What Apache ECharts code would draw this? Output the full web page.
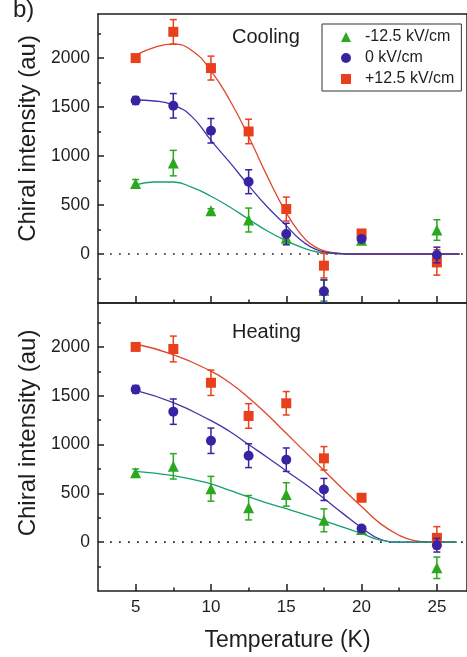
<!DOCTYPE html>
<html>
<head>
<meta charset="utf-8">
<script src="https://cdn.jsdelivr.net/npm/echarts@6/dist/echarts.min.js"></script>
<style>
html,body{margin:0;padding:0;background:#fff;}
#chart{width:467px;height:657px;}
</style>
</head>
<body>
<div id="chart"></div>
<script>
// ---------- data ----------
const temps = [5, 7.5, 10, 12.5, 15, 17.5, 20, 25];

const coolGreen = [720, 928, 442, 347, 163, -370, 140, 245];
const coolGreenErr = [40, 130, 20, 122, 60, 110, 30, 105];
const coolBlue = [1567, 1513, 1258, 738, 204, -381, 153, -10];
const coolBlueErr = [40, 125, 125, 122, 110, 115, 30, 80];
const coolRed = [2000, 2268, 1898, 1251, 459, -119, 210, -86];
const coolRedErr = [30, 125, 122, 125, 122, 125, 30, 130];

const heatGreen = [710, 777, 547, 353, 489, 224, 130, -262];
const heatGreenErr = [40, 130, 127, 125, 120, 117, 30, 110];
const heatBlue = [1565, 1337, 1039, 886, 845, 540, 139, -31];
const heatBlueErr = [40, 130, 130, 122, 120, 113, 30, 70];
const heatRed = [2000, 1979, 1633, 1293, 1423, 859, 455, 44];
const heatRedErr = [30, 132, 130, 126, 120, 120, 25, 115];

// fitted curves
const coolFitX = [5, 6.25, 7.5, 8.75, 10, 11.25, 12.5, 13.75, 15, 15.9, 16.6, 17.3, 18.2, 19.2, 26.5];
const coolFitRed = [2030, 2110, 2143, 2075, 1870, 1570, 1200, 790, 420, 215, 105, 45, 12, 0, 0];
const coolFitBlue = [1572, 1562, 1520, 1400, 1160, 935, 700, 480, 290, 150, 75, 30, 8, 0, 0];
const coolFitGreen = [707, 735, 735, 680, 590, 480, 355, 235, 135, 75, 38, 15, 4, 0, 0];

const heatFitX = [5, 7.5, 10, 11.25, 12.5, 13.75, 15, 16.25, 17.5, 18.75, 20, 21.25, 22.5, 23.5, 24.5, 26.3];
const heatFitRed = [2030, 1921, 1752, 1633, 1480, 1305, 1115, 925, 735, 545, 365, 190, 70, 15, 0, 0];
const heatFitBlue = [1555, 1429, 1245, 1134, 1000, 868, 730, 595, 448, 295, 148, 30, 0, 0, 0, 0];
const heatFitGreen = [726, 682, 597, 530, 463, 401, 343, 283, 219, 155, 89, 20, 0, 0, 0, 0];

const zeroLineX = [3.3, 26.8];
const zeroLineY = [0, 0];

const xMajorTicks = [5, 10, 15, 20, 25];
const xMinorTicks = [7.5, 12.5, 17.5, 22.5];
const yMajorTicks = [0, 500, 1000, 1500, 2000];
const yMinorTicks = [-250, 250, 750, 1250, 1750, 2250];

const seriesNames = ['-12.5 kV/cm', '0 kV/cm', '+12.5 kV/cm'];
const panelNames = ['Cooling', 'Heating'];

// ---------- styling ----------
const FONT = "'Liberation Sans', Arial, sans-serif";
const INK = '#1e1e1e';
const RED = '#e8401c';
const BLUE = '#3a23a3';
const GREEN = '#2aa81e';
const TEAL = '#14a070';
const RED_LINE = '#e0472a';
const BLUE_LINE = '#4534a8';

const zip = (xs, ys) => xs.map((x, i) => [x, ys[i]]);
const zip3 = (xs, ys, es) => xs.map((x, i) => [x, ys[i], es[i]]);

function errRender(params, api) {
  const x = api.value(0), y = api.value(1), e = api.value(2);
  const t = api.coord([x, y + e]);
  const b = api.coord([x, y - e]);
  const hw = 3.5;
  const st = { stroke: api.visual('color'), lineWidth: 1.5 };
  return {
    type: 'group',
    children: [
      { type: 'line', shape: { x1: t[0], y1: t[1], x2: b[0], y2: b[1] }, style: st },
      { type: 'line', shape: { x1: t[0] - hw, y1: t[1], x2: t[0] + hw, y2: t[1] }, style: st },
      { type: 'line', shape: { x1: b[0] - hw, y1: b[1], x2: b[0] + hw, y2: b[1] }, style: st }
    ]
  };
}

const grids = [
  { left: 98, top: 14, width: 370, height: 289 },
  { left: 98, top: 303, width: 370, height: 288 }
];

const axisLineStyle = { color: INK, width: 1.5 };
const yNamePad = [[0, 0, 0, 40], [0, 0, 0, 28]];

const xAxis = [];
const yAxis = [];
[0, 1].forEach(g => {
  const isBottom = g === 1;
  xAxis.push({
    gridIndex: g, type: 'value', min: 2.5, max: 27, position: 'bottom',
    axisLine: { show: true, onZero: false, lineStyle: axisLineStyle },
    axisTick: { show: true, inside: true, length: 7, customValues: xMajorTicks, lineStyle: { color: INK, width: 1.5 } },
    axisLabel: { show: isBottom, customValues: xMajorTicks, margin: 8, color: INK, fontSize: 17, fontFamily: FONT, formatter: v => String(v) },
    splitLine: { show: false },
    name: isBottom ? 'Temperature (K)' : '',
    nameLocation: 'middle', nameGap: 38,
    nameTextStyle: { color: INK, fontSize: 23, fontFamily: FONT, padding: [0, 0, 0, 10] }
  });
  xAxis.push({
    gridIndex: g, type: 'value', min: 2.5, max: 27, position: 'bottom',
    axisLine: { show: false, onZero: false },
    axisTick: { show: true, inside: true, length: 3.5, customValues: xMinorTicks, lineStyle: { color: INK, width: 1.5 } },
    axisLabel: { show: false }, splitLine: { show: false }
  });
  xAxis.push({
    gridIndex: g, type: 'value', min: 2.5, max: 27, position: 'top',
    axisLine: { show: true, onZero: false, lineStyle: axisLineStyle },
    axisTick: { show: false }, axisLabel: { show: false }, splitLine: { show: false }
  });
  yAxis.push({
    gridIndex: g, type: 'value', min: -500, max: 2450, position: 'left',
    axisLine: { show: true, onZero: false, lineStyle: axisLineStyle },
    axisTick: { show: true, inside: true, length: 6, customValues: yMajorTicks, lineStyle: { color: INK, width: 1.5 } },
    axisLabel: { show: true, customValues: yMajorTicks, margin: 8, color: INK, fontSize: 17.5, fontFamily: FONT, formatter: v => String(v) },
    splitLine: { show: false },
    name: 'Chiral intensity (au)', nameLocation: 'middle', nameGap: 53,
    nameTextStyle: { color: INK, fontSize: 24, fontFamily: FONT, padding: yNamePad[g] }
  });
  yAxis.push({
    gridIndex: g, type: 'value', min: -500, max: 2450, position: 'left',
    axisLine: { show: false, onZero: false },
    axisTick: { show: true, inside: true, length: 3, customValues: yMinorTicks, lineStyle: { color: INK, width: 1.5 } },
    axisLabel: { show: false }, splitLine: { show: false }
  });
  yAxis.push({
    gridIndex: g, type: 'value', min: -500, max: 2450, position: 'right',
    axisLine: { show: true, onZero: false, lineStyle: axisLineStyle },
    axisTick: { show: false }, axisLabel: { show: false }, splitLine: { show: false }
  });
});

const panels = [
  {
    fitX: coolFitX, fits: [coolFitGreen, coolFitRed, coolFitBlue],
    pts: [[coolGreen, coolGreenErr], [coolRed, coolRedErr], [coolBlue, coolBlueErr]]
  },
  {
    fitX: heatFitX, fits: [heatFitRed, heatFitBlue, heatFitGreen],
    pts: [[heatGreen, heatGreenErr], [heatRed, heatRedErr], [heatBlue, heatBlueErr]]
  }
];

const series = [];
panels.forEach((p, g) => {
  const xi = g * 3, yi = g * 3;
  series.push({
    type: 'line', name: 'zero' + g, xAxisIndex: xi, yAxisIndex: yi,
    data: zip(zeroLineX, zeroLineY), showSymbol: false, silent: true,
    lineStyle: { color: INK, width: 1.7, type: [1.7, 7.3] }, z: 1
  });
  const fitColors = g === 0 ? [TEAL, RED_LINE, BLUE_LINE] : [RED_LINE, BLUE_LINE, TEAL];
  p.fits.forEach((f, k) => {
    series.push({
      type: 'line', name: 'fit' + g + k, xAxisIndex: xi, yAxisIndex: yi,
      data: zip(p.fitX, f), showSymbol: false, smooth: 0.5,
      lineStyle: { color: fitColors[k], width: 1.3 }, z: 2
    });
  });
  const defs = [
    { name: seriesNames[0], color: GREEN, symbol: 'triangle', size: 11 },
    { name: seriesNames[2], color: RED, symbol: 'rect', size: 10 },
    { name: seriesNames[1], color: BLUE, symbol: 'circle', size: 10 }
  ];
  defs.forEach((d, k) => {
    const [vals, errs] = p.pts[k];
    series.push({
      type: 'custom', name: d.name + ' err', xAxisIndex: xi, yAxisIndex: yi,
      data: zip3(temps, vals, errs), renderItem: errRender, clip: true,
      itemStyle: { color: d.color }, z: 3 + k
    });
    series.push({
      type: 'scatter', name: d.name, xAxisIndex: xi, yAxisIndex: yi,
      data: zip(temps, vals), symbol: d.symbol, symbolSize: d.size,
      itemStyle: { color: d.color, opacity: 1 }, z: 3 + k
    });
  });
});

const option = {
  backgroundColor: '#fff',
  animation: false,
  grid: grids,
  xAxis: xAxis,
  yAxis: yAxis,
  legend: {
    left: 322, top: 24, orient: 'vertical',
    data: [
      { name: seriesNames[0], icon: 'triangle' },
      { name: seriesNames[1], icon: 'circle' },
      { name: seriesNames[2], icon: 'rect' }
    ],
    itemWidth: 10, itemHeight: 10, itemGap: 5,
    borderColor: '#333', borderWidth: 1, borderRadius: 0,
    padding: [5, 7, 4, 19],
    selectedMode: false,
    textStyle: { color: INK, fontSize: 16, fontFamily: FONT, padding: [0, 0, 0, 9], lineHeight: 14 }
  },
  graphic: [
    { type: 'text', left: 13, top: -2, style: { text: 'b)', font: '24px ' + FONT, fill: INK } },
    { type: 'text', left: 232, top: 27, style: { text: panelNames[0], font: '20px ' + FONT, fill: INK } },
    { type: 'text', left: 232, top: 322, style: { text: panelNames[1], font: '20px ' + FONT, fill: INK } }
  ],
  series: series
};

const chart = echarts.init(document.getElementById('chart'), null, { renderer: 'canvas' });
chart.setOption(option);
</script>
</body>
</html>
